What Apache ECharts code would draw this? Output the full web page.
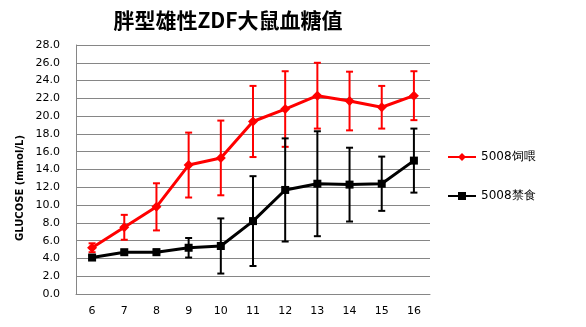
<!DOCTYPE html>
<html>
<head>
<meta charset="utf-8">
<script src="https://cdn.jsdelivr.net/npm/echarts@6/dist/echarts.min.js"></script>
<style>
  html, body { margin: 0; padding: 0; background: #fff; }
  #chart { width: 586px; height: 327px; }
</style>
</head>
<body>
<div id="chart"></div>
<script>
// Weeks of age
const weeks = ['6', '7', '8', '9', '10', '11', '12', '13', '14', '15', '16'];

// Fed group: mean and SD (mmol/L)
const fedMean = [5.2, 7.5, 9.8, 14.5, 15.3, 19.4, 20.8, 22.3, 21.7, 21.0, 22.3];
const fedSD   = [0.5, 1.4, 2.65, 3.65, 4.2, 4.0, 4.25, 3.7, 3.3, 2.4, 2.75];

// Fasted group: mean and SD (mmol/L)
const fastMean = [4.1, 4.7, 4.7, 5.2, 5.4, 8.2, 11.7, 12.4, 12.3, 12.4, 15.0];
const fastSD   = [0.2, 0.2, 0.3, 1.1, 3.1, 5.05, 5.8, 5.9, 4.15, 3.05, 3.6];

const seriesNames = ['5008饲喂', '5008禁食'];
const colors = ['#ff0000', '#000000'];

function errorSeries(mean, sd, color) {
  const data = mean.map((m, i) => [i, m - sd[i], m + sd[i]]);
  return {
    type: 'custom',
    silent: true,
    z: 1,
    data: data,
    renderItem: function (params, api) {
      const x = api.value(0);
      const lo = api.coord([x, api.value(1)]);
      const hi = api.coord([x, api.value(2)]);
      const half = 3.5;
      const style = { stroke: color, lineWidth: 2 };
      return {
        type: 'group',
        children: [
          { type: 'line', shape: { x1: lo[0], y1: lo[1], x2: hi[0], y2: hi[1] }, style: style },
          { type: 'line', shape: { x1: lo[0] - half, y1: lo[1], x2: lo[0] + half, y2: lo[1] }, style: style },
          { type: 'line', shape: { x1: hi[0] - half, y1: hi[1], x2: hi[0] + half, y2: hi[1] }, style: style }
        ]
      };
    }
  };
}

const chart = echarts.init(document.getElementById('chart'), null, { renderer: 'canvas' });

chart.setOption({
  animation: false,
  backgroundColor: '#ffffff',
  title: {
    text: '胖型雄性ZDF大鼠血糖值',
    left: 223,
    textAlign: 'center',
    top: 5,
    textStyle: {
      fontFamily: 'Noto Sans CJK SC',
      fontWeight: 'bold',
      fontSize: 21,
      color: '#000'
    }
  },
  grid: { left: 76, right: 156, top: 45, bottom: 33, containLabel: false },
  legend: {
    orient: 'vertical',
    left: 442,
    top: 146,
    itemGap: 27,
    itemWidth: 28,
    itemHeight: 10,
    textStyle: { fontFamily: 'DejaVu Sans', fontSize: 12, color: '#000' },
    data: seriesNames
  },
  graphic: [{
    type: 'text',
    x: 20,
    y: 188,
    rotation: Math.PI / 2,
    style: {
      text: 'GLUCOSE (mmol/L)',
      fontFamily: 'DejaVu Sans',
      fontWeight: 'bold',
      fontSize: 10,
      fill: '#000',
      align: 'center',
      verticalAlign: 'middle'
    }
  }],
  xAxis: {
    type: 'category',
    data: weeks,
    boundaryGap: true,
    axisLine: { lineStyle: { color: '#868686', width: 1 } },
    axisTick: { show: false },
    axisLabel: { fontFamily: 'DejaVu Sans', fontSize: 11, color: '#000', margin: 12 }
  },
  yAxis: {
    type: 'value',
    min: 0,
    max: 28,
    interval: 2,
    axisLine: { show: true, lineStyle: { color: '#868686', width: 1 } },
    axisTick: { show: false },
    splitLine: { lineStyle: { color: '#868686', width: 1 } },
    axisLabel: {
      fontFamily: 'DejaVu Sans',
      fontSize: 11,
      color: '#000',
      margin: 16,
      formatter: v => v.toFixed(1)
    }
  },
  series: [
    errorSeries(fedMean, fedSD, colors[0]),
    errorSeries(fastMean, fastSD, colors[1]),
    {
      name: seriesNames[0],
      type: 'line',
      data: fedMean,
      z: 3,
      symbol: 'diamond',
      symbolSize: 10,
      lineStyle: { color: colors[0], width: 3 },
      itemStyle: { color: colors[0] }
    },
    {
      name: seriesNames[1],
      type: 'line',
      data: fastMean,
      z: 3,
      symbol: 'rect',
      symbolSize: 8,
      lineStyle: { color: colors[1], width: 3 },
      itemStyle: { color: colors[1] }
    }
  ]
});
</script>
</body>
</html>
